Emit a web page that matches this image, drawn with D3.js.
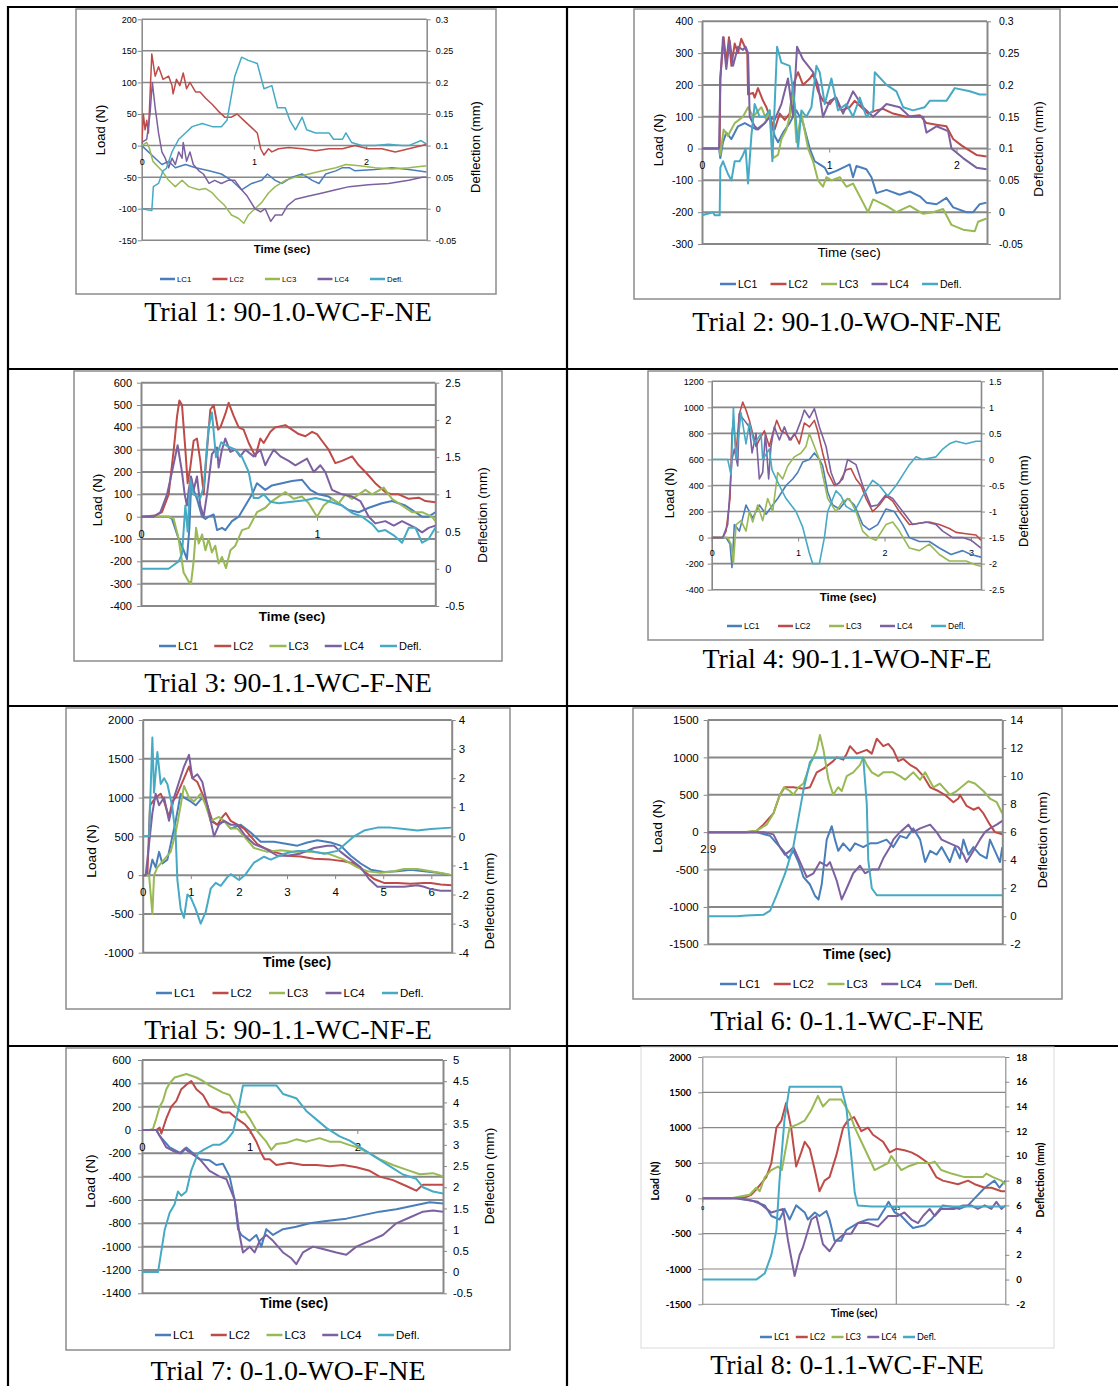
<!DOCTYPE html>
<html>
<head>
<meta charset="utf-8">
<script src="https://cdn.jsdelivr.net/npm/d3@7"></script>
<style>
  body { margin: 0; background: #fff; }
</style>
</head>
<body>
<div id="fig"></div>
<script>
//Series names and Office-style colours
var seriesNames = ["LC1", "LC2", "LC3", "LC4", "Defl."];
var seriesColors = ["#4A7EBB", "#BE4B48", "#98B954", "#7D60A0", "#46AAC5"];

//Trial 1 readings [time (s), load (N)] and [time (s), deflection (mm)]
var trial1LC1 = [[0,0],[0.06,-10],[0.12,-20],[0.18,-30],[0.24,-25],[0.30,-35],[0.39,-30],[0.48,-35],[0.60,-40],[0.71,-45],[0.80,-55],[0.89,-70],[0.98,-60],[1.07,-55],[1.12,-45],[1.19,-55],[1.25,-60],[1.34,-50],[1.43,-45],[1.52,-55],[1.58,-60],[1.64,-45],[1.73,-40],[1.79,-35],[1.85,-35],[1.90,-40],[2.08,-38],[2.23,-35],[2.38,-38],[2.54,-42]];
var trial1LC2 = [[0,0],[0.015,50],[0.03,25],[0.045,40],[0.06,20],[0.09,145],[0.12,110],[0.15,125],[0.19,105],[0.24,110],[0.27,95],[0.28,82],[0.31,105],[0.34,95],[0.37,115],[0.40,90],[0.43,100],[0.48,85],[0.52,85],[0.57,75],[0.63,65],[0.68,55],[0.74,45],[0.80,45],[0.85,50],[0.91,40],[0.97,30],[1.03,20],[1.06,-5],[1.09,-15],[1.13,-5],[1.16,-10],[1.22,-5],[1.31,-3],[1.43,-5],[1.55,-8],[1.67,-5],[1.79,-5],[1.90,0],[2.02,-5],[2.14,-5],[2.26,-10],[2.38,-5],[2.50,0],[2.54,2]];
var trial1LC3 = [[0,0],[0.045,5],[0.07,-5],[0.10,-25],[0.18,-40],[0.24,-55],[0.27,-60],[0.30,-65],[0.36,-55],[0.42,-65],[0.51,-70],[0.57,-68],[0.63,-75],[0.68,-85],[0.74,-95],[0.80,-110],[0.86,-115],[0.91,-123],[0.95,-110],[1.01,-100],[1.07,-90],[1.13,-75],[1.19,-65],[1.28,-55],[1.37,-50],[1.49,-45],[1.61,-40],[1.73,-35],[1.82,-30],[1.94,-32],[2.08,-35],[2.23,-37],[2.38,-35],[2.54,-32]];
var trial1LC4 = [[0,5],[0.045,10],[0.074,50],[0.095,100],[0.12,60],[0.15,20],[0.18,-10],[0.21,-20],[0.24,-35],[0.27,-20],[0.30,-30],[0.33,-10],[0.36,-20],[0.37,5],[0.40,-25],[0.43,-10],[0.46,-30],[0.51,-40],[0.55,-45],[0.60,-60],[0.65,-55],[0.71,-60],[0.77,-55],[0.83,-55],[0.89,-70],[0.94,-80],[1.01,-100],[1.06,-105],[1.10,-100],[1.15,-120],[1.19,-110],[1.25,-110],[1.30,-95],[1.37,-85],[1.49,-80],[1.61,-75],[1.73,-70],[1.85,-65],[2.02,-62],[2.20,-60],[2.38,-55],[2.50,-50],[2.54,-50]];
var trial1Defl = [[0,0],[0.09,-0.003],[0.104,0.035],[0.15,0.04],[0.19,0.06],[0.22,0.064],[0.27,0.09],[0.33,0.11],[0.39,0.12],[0.45,0.13],[0.54,0.135],[0.63,0.13],[0.71,0.13],[0.76,0.14],[0.80,0.18],[0.83,0.21],[0.89,0.24],[0.95,0.235],[1.03,0.23],[1.09,0.19],[1.16,0.195],[1.21,0.16],[1.28,0.16],[1.32,0.14],[1.37,0.125],[1.43,0.145],[1.47,0.125],[1.55,0.12],[1.67,0.12],[1.71,0.11],[1.79,0.11],[1.82,0.12],[1.87,0.105],[1.96,0.1],[2.08,0.1],[2.20,0.102],[2.32,0.1],[2.38,0.1],[2.49,0.108],[2.54,0.102]];

//Trial 2
var trial2LC1 = [[0,0],[0.134,0],[0.144,-30],[0.165,20],[0.191,50],[0.231,30],[0.283,70],[0.336,80],[0.427,60],[0.493,80],[0.532,100],[0.571,40],[0.598,20],[0.637,50],[0.689,80],[0.742,120],[0.794,80],[0.847,0],[0.886,-40],[0.925,-50],[0.965,-60],[0.991,-80],[1.056,-70],[1.109,-60],[1.161,-50],[1.187,-90],[1.214,-55],[1.292,-65],[1.332,-90],[1.371,-140],[1.45,-130],[1.554,-145],[1.633,-135],[1.712,-150],[1.764,-170],[1.843,-175],[1.921,-155],[1.974,-185],[2.079,-200],[2.131,-200],[2.183,-175],[2.236,-170]];
var trial2LC2 = [[0,0],[0.139,0],[0.144,220],[0.170,350],[0.191,270],[0.212,350],[0.231,260],[0.257,330],[0.283,300],[0.309,345],[0.336,320],[0.356,300],[0.362,170],[0.401,175],[0.414,160],[0.440,190],[0.480,150],[0.506,130],[0.532,100],[0.571,60],[0.611,110],[0.650,90],[0.689,110],[0.716,200],[0.755,240],[0.794,200],[0.847,220],[0.873,235],[0.912,180],[0.951,150],[1.004,140],[1.043,160],[1.096,120],[1.161,130],[1.2,150],[1.253,130],[1.305,110],[1.371,120],[1.423,125],[1.502,110],[1.607,100],[1.712,105],[1.764,80],[1.843,75],[1.921,70],[1.974,30],[2.039,10],[2.079,0],[2.157,-20],[2.236,-25]];
var trial2LC3 = [[0,0],[0.139,0],[0.144,-20],[0.170,60],[0.204,40],[0.257,80],[0.322,100],[0.362,130],[0.401,100],[0.467,130],[0.506,90],[0.532,120],[0.558,-30],[0.598,-20],[0.624,30],[0.663,60],[0.689,100],[0.716,180],[0.742,20],[0.781,110],[0.834,0],[0.873,-40],[0.912,-100],[0.951,-120],[0.978,-90],[1.017,-100],[1.083,-90],[1.135,-120],[1.187,-110],[1.266,-170],[1.305,-200],[1.345,-160],[1.45,-180],[1.528,-200],[1.633,-180],[1.738,-205],[1.817,-200],[1.895,-190],[1.961,-240],[2.052,-255],[2.144,-260],[2.170,-230],[2.236,-220]];
var trial2LC4 = [[0,0],[0.134,0],[0.144,220],[0.165,350],[0.191,250],[0.217,340],[0.244,260],[0.283,320],[0.322,310],[0.343,320],[0.362,300],[0.375,100],[0.414,70],[0.440,60],[0.493,80],[0.532,100],[0.571,90],[0.624,140],[0.676,220],[0.716,100],[0.747,320],[0.794,280],[0.873,240],[0.912,200],[0.951,100],[1.004,150],[1.056,160],[1.109,110],[1.187,180],[1.266,130],[1.345,100],[1.45,140],[1.554,130],[1.633,100],[1.738,100],[1.764,50],[1.843,70],[1.934,55],[1.961,0],[2.052,-30],[2.157,-60],[2.236,-65]];
var trial2Defl = [[0,-0.005],[0.087,0],[0.10,-0.005],[0.139,-0.005],[0.144,0.07],[0.165,0.08],[0.204,0.06],[0.231,0.05],[0.257,0.08],[0.296,0.08],[0.322,0.09],[0.343,0.1],[0.362,0.045],[0.388,0.12],[0.414,0.17],[0.453,0.15],[0.493,0.15],[0.532,0.16],[0.553,0.08],[0.590,0.26],[0.624,0.235],[0.689,0.23],[0.729,0.17],[0.755,0.1],[0.781,0.16],[0.820,0.15],[0.860,0.165],[0.899,0.23],[0.925,0.22],[0.965,0.17],[1.017,0.21],[1.069,0.16],[1.135,0.17],[1.187,0.15],[1.240,0.18],[1.292,0.15],[1.345,0.16],[1.358,0.22],[1.45,0.2],[1.528,0.19],[1.581,0.165],[1.659,0.16],[1.751,0.165],[1.790,0.175],[1.921,0.175],[1.987,0.195],[2.105,0.19],[2.183,0.185],[2.236,0.185]];

//Trial 3
var trial3LC1 = [[0,0],[0.157,0],[0.176,-10],[0.214,-100],[0.242,-150],[0.261,-190],[0.275,-50],[0.286,170],[0.299,120],[0.318,80],[0.347,0],[0.366,-10],[0.384,0],[0.413,10],[0.432,-60],[0.460,-50],[0.479,-60],[0.517,-20],[0.555,0],[0.593,50],[0.631,100],[0.659,150],[0.706,120],[0.744,140],[0.801,150],[0.858,160],[0.915,165],[0.962,120],[1.009,100],[1.066,90],[1.123,60],[1.18,30],[1.237,20],[1.294,40],[1.369,60],[1.426,70],[1.502,50],[1.559,20],[1.597,0],[1.634,0],[1.672,20]];
var trial3LC2 = [[0,0],[0.081,5],[0.119,20],[0.157,100],[0.186,300],[0.205,450],[0.218,520],[0.233,500],[0.252,300],[0.265,150],[0.280,220],[0.299,340],[0.318,350],[0.337,250],[0.356,100],[0.375,300],[0.394,480],[0.413,500],[0.438,390],[0.451,400],[0.479,460],[0.498,510],[0.527,450],[0.555,400],[0.583,390],[0.612,330],[0.650,270],[0.678,350],[0.697,330],[0.735,380],[0.763,400],[0.820,410],[0.858,390],[0.896,370],[0.934,360],[0.972,380],[1.0,370],[1.028,340],[1.066,300],[1.104,240],[1.142,250],[1.199,270],[1.237,230],[1.275,200],[1.331,150],[1.388,110],[1.426,100],[1.464,100],[1.521,80],[1.578,85],[1.616,70],[1.672,65]];
var trial3LC3 = [[0,0],[0.157,0],[0.186,-10],[0.214,-100],[0.242,-250],[0.271,-290],[0.284,-300],[0.299,-200],[0.313,-50],[0.328,-120],[0.347,-80],[0.366,-150],[0.384,-100],[0.403,-160],[0.422,-130],[0.441,-210],[0.460,-180],[0.483,-230],[0.508,-150],[0.536,-130],[0.574,-60],[0.612,-50],[0.659,20],[0.706,40],[0.744,70],[0.782,90],[0.820,110],[0.867,80],[0.915,90],[0.953,60],[1.0,0],[1.038,50],[1.085,80],[1.123,60],[1.161,100],[1.199,80],[1.237,100],[1.275,120],[1.313,100],[1.379,130],[1.426,80],[1.483,50],[1.540,20],[1.597,20],[1.653,0],[1.672,-20]];
var trial3LC4 = [[0,0],[0.072,0],[0.110,20],[0.148,100],[0.176,200],[0.208,320],[0.233,200],[0.248,100],[0.261,50],[0.271,120],[0.284,180],[0.299,120],[0.318,180],[0.337,50],[0.356,0],[0.375,100],[0.403,280],[0.432,310],[0.441,220],[0.460,300],[0.479,350],[0.508,290],[0.536,300],[0.564,270],[0.593,300],[0.640,270],[0.678,300],[0.706,230],[0.725,260],[0.754,300],[0.792,270],[0.839,250],[0.877,230],[0.943,260],[0.981,200],[1.019,230],[1.047,200],[1.085,120],[1.142,100],[1.199,90],[1.246,70],[1.294,0],[1.331,-30],[1.388,-20],[1.436,-40],[1.483,-20],[1.559,-50],[1.597,-70],[1.634,-50],[1.672,-40]];
var trial3Defl = [[0,0],[0.157,0],[0.186,0.05],[0.214,0.1],[0.233,0.2],[0.252,0.85],[0.265,0.5],[0.280,1.2],[0.299,1.0],[0.337,0.95],[0.356,1.1],[0.384,1.9],[0.403,2.1],[0.426,1.5],[0.456,1.7],[0.489,1.65],[0.536,1.6],[0.574,1.5],[0.612,1.3],[0.640,0.95],[0.669,0.95],[0.697,1.0],[0.735,0.9],[0.782,0.88],[0.858,0.9],[0.934,0.92],[0.991,0.95],[1.047,0.92],[1.142,0.85],[1.199,0.75],[1.256,0.7],[1.313,0.6],[1.350,0.5],[1.388,0.52],[1.436,0.45],[1.483,0.35],[1.521,0.55],[1.559,0.55],[1.597,0.35],[1.634,0.4],[1.672,0.55]];

//Trial 4
var trial4LC1 = [[0,0],[0.166,0],[0.212,-50],[0.235,-230],[0.262,100],[0.320,50],[0.397,250],[0.474,150],[0.551,250],[0.629,180],[0.706,250],[0.764,300],[0.860,400],[0.937,450],[0.995,500],[1.053,580],[1.130,600],[1.188,650],[1.246,600],[1.284,550],[1.342,350],[1.400,250],[1.477,220],[1.573,300],[1.651,250],[1.747,100],[1.824,60],[1.921,100],[2.017,220],[2.113,200],[2.210,100],[2.287,0],[2.403,-30],[2.518,-30],[2.634,-80],[2.769,-130],[2.904,-100],[3.0,-130],[3.116,-150]];
var trial4LC2 = [[0,0],[0.127,0],[0.166,50],[0.212,300],[0.235,800],[0.251,900],[0.282,650],[0.320,950],[0.359,1040],[0.397,980],[0.436,900],[0.474,800],[0.513,700],[0.551,750],[0.609,820],[0.667,700],[0.706,800],[0.752,900],[0.802,820],[0.860,800],[0.918,750],[0.956,800],[1.014,720],[1.072,880],[1.130,850],[1.188,900],[1.226,820],[1.284,650],[1.342,500],[1.381,450],[1.419,400],[1.477,420],[1.554,520],[1.612,530],[1.670,450],[1.728,400],[1.786,300],[1.863,200],[1.940,250],[2.017,320],[2.094,280],[2.171,200],[2.287,100],[2.403,110],[2.518,120],[2.634,100],[2.750,70],[2.827,40],[2.943,30],[3.058,20],[3.116,-20]];
var trial4LC3 = [[0,0],[0.185,0],[0.224,-50],[0.251,-200],[0.282,100],[0.339,130],[0.397,50],[0.436,200],[0.474,120],[0.532,250],[0.590,130],[0.648,300],[0.706,200],[0.764,500],[0.821,450],[0.879,550],[0.956,620],[1.034,650],[1.091,700],[1.130,800],[1.188,700],[1.246,600],[1.342,300],[1.438,200],[1.516,280],[1.593,300],[1.670,200],[1.747,50],[1.824,0],[1.901,-20],[2.017,100],[2.094,120],[2.171,50],[2.287,-80],[2.403,-100],[2.518,-50],[2.634,-130],[2.750,-180],[2.943,-180],[3.058,-210],[3.116,-220]];
var trial4LC4 = [[0,0],[0.127,0],[0.185,100],[0.235,600],[0.262,680],[0.301,550],[0.320,950],[0.378,900],[0.436,850],[0.467,650],[0.513,800],[0.551,450],[0.590,500],[0.621,800],[0.659,450],[0.686,700],[0.725,850],[0.783,750],[0.841,850],[0.899,750],[0.976,800],[1.034,900],[1.072,980],[1.130,920],[1.188,990],[1.246,850],[1.323,700],[1.381,500],[1.438,400],[1.516,450],[1.573,600],[1.670,560],[1.747,400],[1.843,240],[1.921,250],[2.017,330],[2.094,300],[2.210,200],[2.325,100],[2.480,120],[2.596,100],[2.673,50],[2.788,0],[2.904,0],[3.0,-20],[3.116,-80]];
var trial4Defl = [[0,0],[0.185,0],[0.224,-0.3],[0.251,1.0],[0.282,0],[0.339,0.9],[0.397,0.3],[0.436,0.7],[0.494,0.3],[0.571,0.5],[0.590,0],[0.667,0.2],[0.698,-0.2],[0.783,-0.5],[0.860,-0.75],[0.976,-1.0],[1.053,-1.3],[1.130,-1.8],[1.169,-2.0],[1.246,-2.0],[1.304,-1.5],[1.342,-1.0],[1.438,-0.6],[1.496,-0.7],[1.554,-0.9],[1.651,-1.0],[1.747,-0.7],[1.863,-0.4],[1.940,-0.5],[2.036,-0.7],[2.133,-0.5],[2.210,-0.3],[2.287,-0.1],[2.364,0.05],[2.441,0],[2.596,0.05],[2.673,0.2],[2.750,0.3],[2.827,0.35],[2.943,0.3],[3.058,0.35],[3.116,0.35]];

//Trial 5
var trial5LC1 = [[0,0],[0.132,0],[0.201,200],[0.270,100],[0.340,300],[0.409,150],[0.513,200],[0.582,400],[0.686,700],[0.790,1050],[0.859,1000],[0.998,950],[1.102,900],[1.240,1000],[1.344,900],[1.414,700],[1.552,650],[1.691,700],[1.830,600],[2.037,650],[2.245,550],[2.453,430],[2.730,430],[3.008,400],[3.215,380],[3.423,420],[3.631,450],[3.909,420],[4.116,380],[4.324,250],[4.532,150],[4.740,70],[5.017,40],[5.294,50],[5.572,70],[5.849,50],[6.126,30],[6.424,0]];
var trial5LC2 = [[0,0],[0.097,0],[0.152,900],[0.270,1000],[0.374,1050],[0.444,950],[0.547,750],[0.617,950],[0.686,1000],[0.825,1200],[0.963,1400],[1.033,1250],[1.137,1200],[1.240,1050],[1.344,900],[1.448,700],[1.552,650],[1.656,750],[1.726,800],[1.830,700],[1.968,650],[2.107,600],[2.245,500],[2.384,400],[2.523,350],[2.730,300],[3.008,250],[3.285,240],[3.562,210],[3.909,200],[4.186,180],[4.394,150],[4.602,50],[4.809,-50],[5.017,-100],[5.294,-100],[5.572,-110],[5.849,-100],[5.988,-100],[6.195,-120],[6.424,-130]];
var trial5LC3 = [[0,0],[0.132,0],[0.201,-500],[0.236,0],[0.305,100],[0.444,200],[0.582,300],[0.686,550],[0.790,900],[0.859,1150],[0.963,1000],[1.067,950],[1.206,1050],[1.310,900],[1.414,700],[1.587,750],[1.691,700],[1.830,600],[1.968,600],[2.107,500],[2.315,350],[2.592,300],[2.869,320],[3.146,300],[3.493,300],[3.839,280],[4.186,200],[4.463,100],[4.671,50],[4.948,30],[5.225,50],[5.433,80],[5.710,80],[5.988,50],[6.265,20],[6.424,0]];
var trial5LC4 = [[0,0],[0.062,0],[0.132,400],[0.201,800],[0.270,1050],[0.340,900],[0.444,1000],[0.547,700],[0.651,1000],[0.755,1200],[0.859,1400],[0.963,1550],[1.033,1250],[1.137,1300],[1.240,1200],[1.344,900],[1.448,600],[1.483,500],[1.587,650],[1.691,700],[1.830,650],[1.968,650],[2.141,500],[2.315,400],[2.523,350],[2.800,250],[3.008,250],[3.285,280],[3.562,350],[3.839,380],[3.978,380],[4.116,300],[4.324,200],[4.532,100],[4.705,-50],[4.879,-150],[5.156,-150],[5.433,-150],[5.710,-130],[5.849,-150],[5.988,-180],[6.195,-200],[6.424,-200]];
var trial5Defl = [[0,0],[0.132,0],[0.201,3.4],[0.236,1.5],[0.305,2.9],[0.374,1.8],[0.444,2.0],[0.513,1.8],[0.617,1.0],[0.686,0],[0.721,-1.5],[0.790,-2.5],[0.859,-2.8],[0.929,-2.0],[0.998,-2.1],[1.102,-2.5],[1.206,-3.0],[1.310,-2.6],[1.414,-1.8],[1.518,-1.6],[1.622,-1.7],[1.760,-1.4],[1.830,-1.3],[2.003,-1.5],[2.141,-1.3],[2.315,-0.9],[2.523,-0.7],[2.661,-0.8],[2.938,-0.6],[3.215,-0.5],[3.493,-0.5],[3.770,-0.6],[4.047,-0.5],[4.186,-0.3],[4.394,0],[4.602,0.2],[4.879,0.3],[5.156,0.3],[5.433,0.25],[5.710,0.2],[5.988,0.25],[6.424,0.3]];

//Trial 6 (time axis starts at 2.9 s)
var trial6LC1 = [[2.9,0],[3.066,0],[3.112,-50],[3.134,-150],[3.157,-250],[3.174,-350],[3.191,-250],[3.208,-400],[3.225,-600],[3.247,-700],[3.264,-850],[3.276,-900],[3.287,-700],[3.304,-100],[3.321,80],[3.332,-100],[3.343,-250],[3.36,-150],[3.383,-250],[3.4,-150],[3.428,-200],[3.451,-150],[3.474,-150],[3.507,-100],[3.53,-200],[3.553,-50],[3.575,-80],[3.598,50],[3.621,-100],[3.638,-400],[3.655,-250],[3.677,-300],[3.694,-200],[3.722,-400],[3.739,-200],[3.756,-350],[3.768,-100],[3.785,-300],[3.802,-200],[3.824,-300],[3.847,-350],[3.858,-100],[3.875,-250],[3.892,-400],[3.9,-200]];
var trial6LC2 = [[2.9,0],[3.032,0],[3.066,20],[3.089,100],[3.123,250],[3.145,500],[3.162,600],[3.191,600],[3.225,580],[3.247,600],[3.27,800],[3.293,850],[3.326,950],[3.338,1000],[3.36,970],[3.372,1050],[3.383,1150],[3.406,1050],[3.44,1100],[3.457,1050],[3.474,1250],[3.496,1150],[3.513,1180],[3.53,1100],[3.547,950],[3.564,980],[3.587,900],[3.609,850],[3.632,750],[3.655,600],[3.683,550],[3.705,500],[3.734,400],[3.751,450],[3.756,500],[3.779,350],[3.802,300],[3.819,330],[3.836,250],[3.858,100],[3.875,0],[3.9,-30]];
var trial6LC3 = [[2.9,0],[3.021,0],[3.066,20],[3.1,100],[3.123,250],[3.145,500],[3.159,600],[3.179,550],[3.191,500],[3.208,600],[3.225,650],[3.247,900],[3.27,1100],[3.281,1300],[3.293,1100],[3.31,700],[3.326,500],[3.343,600],[3.355,550],[3.372,750],[3.394,800],[3.417,900],[3.428,1000],[3.44,900],[3.457,800],[3.479,750],[3.496,800],[3.53,800],[3.553,750],[3.57,700],[3.598,800],[3.621,700],[3.638,800],[3.666,600],[3.688,650],[3.722,500],[3.745,550],[3.785,680],[3.807,650],[3.836,550],[3.858,450],[3.881,400],[3.9,250]];
var trial6LC4 = [[2.9,0],[3.089,0],[3.123,-30],[3.145,-200],[3.162,-300],[3.179,-250],[3.191,-200],[3.208,-350],[3.225,-500],[3.236,-600],[3.259,-550],[3.281,-400],[3.304,-450],[3.315,-400],[3.338,-650],[3.355,-900],[3.372,-750],[3.394,-550],[3.417,-450],[3.434,-550],[3.457,-500],[3.479,-500],[3.496,-350],[3.519,-200],[3.53,-100],[3.541,-50],[3.553,0],[3.581,100],[3.598,0],[3.621,50],[3.655,100],[3.677,0],[3.694,-100],[3.722,-150],[3.751,-200],[3.768,-300],[3.779,-400],[3.802,-250],[3.824,-100],[3.841,0],[3.858,50],[3.881,100],[3.9,150]];
var trial6Defl = [[2.9,0],[2.998,0],[3.032,0.05],[3.089,0.1],[3.112,0.4],[3.134,1.5],[3.162,3],[3.191,5],[3.208,7],[3.225,9],[3.247,11],[3.259,11.3],[3.428,11.3],[3.44,8],[3.445,4],[3.457,2],[3.474,1.5],[3.9,1.5]];

//Trial 7
var trial7LC1 = [[0,0],[0.133,0],[0.164,-50],[0.211,-100],[0.257,-150],[0.319,-180],[0.365,-200],[0.412,-150],[0.474,-200],[0.536,-250],[0.628,-260],[0.690,-300],[0.752,-290],[0.814,-400],[0.861,-600],[0.892,-850],[0.923,-900],[1.0,-950],[1.062,-900],[1.108,-1000],[1.155,-850],[1.217,-900],[1.310,-850],[1.433,-830],[1.557,-800],[1.712,-780],[1.898,-760],[2.053,-730],[2.207,-700],[2.362,-680],[2.517,-650],[2.672,-620],[2.796,-630]];
var trial7LC2 = [[0,0],[0.133,0],[0.164,20],[0.180,-30],[0.226,100],[0.272,200],[0.319,250],[0.365,350],[0.427,400],[0.458,420],[0.505,350],[0.567,300],[0.628,200],[0.690,180],[0.752,150],[0.814,150],[0.876,100],[0.954,50],[1.0,0],[1.062,-100],[1.108,-200],[1.139,-250],[1.186,-250],[1.248,-300],[1.372,-280],[1.495,-300],[1.619,-300],[1.743,-310],[1.867,-300],[1.991,-320],[2.115,-350],[2.207,-400],[2.331,-430],[2.455,-480],[2.548,-520],[2.610,-470],[2.703,-470],[2.796,-470]];
var trial7LC3 = [[0,0],[0.071,0],[0.102,10],[0.133,100],[0.164,200],[0.195,250],[0.226,350],[0.257,400],[0.303,450],[0.412,480],[0.505,450],[0.567,420],[0.628,380],[0.690,350],[0.752,320],[0.814,300],[0.876,200],[0.923,150],[0.954,160],[1.0,100],[1.062,0],[1.108,-50],[1.155,-100],[1.201,-170],[1.248,-120],[1.341,-110],[1.433,-80],[1.526,-100],[1.650,-70],[1.743,-100],[1.836,-100],[1.929,-130],[2.006,-150],[2.115,-200],[2.207,-250],[2.331,-300],[2.455,-340],[2.579,-380],[2.703,-370],[2.796,-400]];
var trial7LC4 = [[0,0],[0.133,0],[0.164,-50],[0.226,-150],[0.288,-180],[0.350,-200],[0.396,-160],[0.458,-200],[0.536,-250],[0.628,-350],[0.721,-400],[0.783,-420],[0.861,-600],[0.907,-900],[0.938,-1050],[1.0,-1000],[1.046,-1050],[1.093,-950],[1.155,-900],[1.217,-950],[1.310,-1050],[1.387,-1100],[1.433,-1150],[1.495,-1050],[1.588,-1000],[1.681,-1020],[1.805,-1050],[1.898,-1070],[1.991,-1000],[2.115,-950],[2.238,-900],[2.362,-800],[2.486,-750],[2.610,-700],[2.703,-690],[2.796,-700]];
var trial7Defl = [[0,0],[0.149,0],[0.180,0.5],[0.211,1.0],[0.257,1.4],[0.303,1.6],[0.334,1.9],[0.365,1.8],[0.412,1.9],[0.458,2.4],[0.520,2.8],[0.582,2.9],[0.659,3.0],[0.721,3.0],[0.783,3.1],[0.845,3.3],[0.892,3.8],[0.938,4.4],[1.248,4.4],[1.310,4.2],[1.433,4.1],[1.526,3.8],[1.619,3.6],[1.712,3.4],[1.836,3.2],[1.929,3.1],[2.053,2.9],[2.176,2.7],[2.300,2.5],[2.424,2.3],[2.548,2.2],[2.610,2.0],[2.703,1.9],[2.796,1.85]];

//Trial 8
var trial8LC1 = [[0,0],[0.083,0],[0.126,-30],[0.161,-100],[0.178,-250],[0.199,-300],[0.212,-150],[0.225,-300],[0.242,-100],[0.264,-200],[0.272,-300],[0.290,-200],[0.302,-250],[0.320,-180],[0.328,-300],[0.341,-600],[0.358,-600],[0.371,-450],[0.401,-350],[0.427,-300],[0.453,-300],[0.470,-150],[0.480,-50],[0.496,-200],[0.513,-250],[0.530,-350],[0.543,-420],[0.573,-380],[0.590,-300],[0.620,-100],[0.642,-120],[0.663,-150],[0.685,-100],[0.702,0],[0.728,150],[0.753,250],[0.766,150],[0.781,250]];
var trial8LC2 = [[0,0],[0.083,0],[0.109,10],[0.126,50],[0.143,150],[0.165,300],[0.178,500],[0.191,1000],[0.204,1100],[0.216,1350],[0.229,1000],[0.242,450],[0.255,650],[0.264,800],[0.277,700],[0.290,400],[0.302,100],[0.315,250],[0.328,300],[0.345,600],[0.363,1000],[0.375,1100],[0.391,1150],[0.410,950],[0.427,1000],[0.440,900],[0.466,800],[0.483,650],[0.500,700],[0.521,680],[0.539,650],[0.556,600],[0.582,500],[0.603,300],[0.620,250],[0.659,200],[0.685,250],[0.702,200],[0.728,150],[0.745,150],[0.771,100],[0.781,100]];
var trial8LC3 = [[0,0],[0.075,0],[0.101,30],[0.122,50],[0.139,150],[0.148,100],[0.161,300],[0.178,400],[0.195,450],[0.205,400],[0.225,1000],[0.247,1050],[0.264,1100],[0.281,1250],[0.298,1450],[0.311,1300],[0.328,1400],[0.358,1400],[0.380,1200],[0.393,1000],[0.410,800],[0.436,500],[0.444,400],[0.461,450],[0.479,500],[0.487,600],[0.500,500],[0.513,400],[0.530,450],[0.556,500],[0.590,500],[0.599,520],[0.616,400],[0.642,350],[0.676,300],[0.702,300],[0.723,300],[0.732,350],[0.749,300],[0.771,250],[0.781,200]];
var trial8LC4 = [[0,0],[0.092,0],[0.143,-50],[0.178,-200],[0.208,-150],[0.221,-600],[0.238,-1100],[0.251,-800],[0.259,-700],[0.281,-300],[0.294,-250],[0.311,-650],[0.328,-750],[0.345,-600],[0.367,-500],[0.384,-500],[0.401,-350],[0.427,-350],[0.453,-400],[0.479,-250],[0.504,-250],[0.521,-200],[0.539,-300],[0.556,-350],[0.569,-250],[0.586,-150],[0.599,-250],[0.616,-150],[0.650,-150],[0.672,-100],[0.693,-100],[0.710,-150],[0.728,-100],[0.745,-150],[0.758,-50],[0.771,-150],[0.781,-100]];
var trial8Defl = [[0,0],[0.139,0],[0.161,0.5],[0.178,2],[0.191,4],[0.199,8],[0.212,13],[0.225,15.6],[0.358,15.6],[0.371,14],[0.384,10],[0.393,7],[0.401,6],[0.436,5.9],[0.781,5.9]];

//Axis ranges and tick labels of each trial
var trialCaptions = ["Trial 1: 90-1.0-WC-F-NE", "Trial 2: 90-1.0-WO-NF-NE", "Trial 3: 90-1.1-WC-F-NE", "Trial 4: 90-1.1-WO-NF-E",
                     "Trial 5: 90-1.1-WC-NF-E", "Trial 6: 0-1.1-WC-F-NE", "Trial 7: 0-1.0-WO-F-NE", "Trial 8: 0-1.1-WC-F-NE"];
var timeDomains = [[0, 2.54], [0, 2.24], [0, 1.672], [0, 3.116], [0, 6.424], [2.9, 3.9], [0, 2.796], [0, 0.781]];
var timeTicks = [[0, 1, 2], [0, 1, 2], [0, 1], [0, 1, 2, 3], [0, 1, 2, 3, 4, 5, 6], [2.9], [0, 1, 2], [0, 0.5]];
var loadRanges = [[-150, 200, 50], [-300, 400, 100], [-400, 600, 100], [-400, 1200, 200], [-1000, 2000, 500], [-1500, 1500, 500], [-1400, 600, 200], [-1500, 2000, 500]];
var deflRanges = [[-0.05, 0.3, 0.05], [-0.05, 0.3, 0.05], [-0.5, 2.5, 0.5], [-2.5, 1.5, 0.5], [-4, 4, 1], [-2, 14, 2], [-0.5, 5, 0.5], [-2, 18, 2]];
var trialSeries = [
  [trial1LC1, trial1LC2, trial1LC3, trial1LC4, trial1Defl],
  [trial2LC1, trial2LC2, trial2LC3, trial2LC4, trial2Defl],
  [trial3LC1, trial3LC2, trial3LC3, trial3LC4, trial3Defl],
  [trial4LC1, trial4LC2, trial4LC3, trial4LC4, trial4Defl],
  [trial5LC1, trial5LC2, trial5LC3, trial5LC4, trial5Defl],
  [trial6LC1, trial6LC2, trial6LC3, trial6LC4, trial6Defl],
  [trial7LC1, trial7LC2, trial7LC3, trial7LC4, trial7Defl],
  [trial8LC1, trial8LC2, trial8LC3, trial8LC4, trial8Defl]
];

//Layout of each embedded chart inside the table cells
var layouts = [
  {frame: [76, 9, 496, 294], plot: [141.7, 19.3, 426.7, 240.3], caption: [288, 321],
   tickFont: 9, titleFont: 13, timeFont: 11.5, timeBold: true, legendFont: 7.8,
   loadTitle: [100, 130], deflTitle: [475, 147], timeTitle: [282, 253], xOffset: 19, xFont: 9,
   leftGap: 5, rightGap: 9, legend: [160, 279, 52.5, 15], lineWidth: 1.5, gridWidth: 1.5},
  {frame: [634, 9, 1060, 299], plot: [702, 21.3, 987, 244], caption: [847, 331],
   tickFont: 10.5, titleFont: 13.5, timeFont: 13.5, timeBold: false, legendFont: 10.5,
   loadTitle: [658, 140], deflTitle: [1038, 149], timeTitle: [849, 257], xOffset: 20, xFont: 10.5,
   leftGap: 9, rightGap: 12, legend: [720, 284, 50.5, 16], lineWidth: 2, gridWidth: 2},
  {frame: [74, 371, 502, 661], plot: [141, 382.7, 435.3, 606], caption: [288, 692],
   tickFont: 11, titleFont: 13.5, timeFont: 13.5, timeBold: true, legendFont: 11,
   loadTitle: [97, 500], deflTitle: [482, 515], timeTitle: [292, 621], xOffset: 21, xFont: 11,
   leftGap: 9, rightGap: 10, legend: [159, 646, 55.25, 17], lineWidth: 2, gridWidth: 2},
  {frame: [648, 371, 1043, 640], plot: [711.7, 381.3, 981, 589.7], caption: [847, 668],
   tickFont: 9, titleFont: 13, timeFont: 11.5, timeBold: true, legendFont: 8.5,
   loadTitle: [669, 493], deflTitle: [1023, 501], timeTitle: [848, 601], xOffset: 18, xFont: 9,
   leftGap: 8, rightGap: 8, legend: [727, 626, 51, 15], lineWidth: 1.6, gridWidth: 1.6},
  {frame: [66, 708, 510, 1009], plot: [142.7, 720, 451.7, 952.7], caption: [288, 1039],
   tickFont: 11.5, titleFont: 13.7, timeFont: 13.8, timeBold: true, legendFont: 11.5,
   loadTitle: [91, 851], deflTitle: [489, 901], timeTitle: [297, 967], xOffset: 21, xFont: 11.5,
   leftGap: 9, rightGap: 7, legend: [156, 993, 56.5, 16], lineWidth: 2, gridWidth: 2},
  {frame: [633, 708, 1062, 999], plot: [707.7, 720, 1002.3, 944.3], caption: [847, 1030],
   tickFont: 11.5, titleFont: 13.7, timeFont: 13.8, timeBold: true, legendFont: 11.5,
   loadTitle: [657, 826], deflTitle: [1042, 840], timeTitle: [857, 959], xOffset: 21, xFont: 11.5,
   leftGap: 9, rightGap: 8, legend: [720, 984, 53.75, 17], lineWidth: 2, gridWidth: 2},
  {frame: [66, 1048, 510, 1350], plot: [142, 1060, 443, 1293.3], caption: [288, 1380],
   tickFont: 11.3, titleFont: 13.7, timeFont: 13.8, timeBold: true, legendFont: 11.5,
   loadTitle: [90, 1181], deflTitle: [489, 1176], timeTitle: [294, 1308], xOffset: 21, xFont: 11.3,
   leftGap: 11, rightGap: 10, legend: [155, 1335, 55.75, 16], lineWidth: 2, gridWidth: 2},
  {frame: [641, 1047, 1054, 1348], plot: [702.3, 1057, 1005.3, 1304.3], caption: [847, 1374],
   tickFont: 9.5, titleFont: 10.5, timeFont: 10.5, timeBold: true, legendFont: 9,
   loadTitle: [655, 1181], deflTitle: [1040, 1180], timeTitle: [854, 1317], xOffset: 12, xFont: 5,
   leftGap: 11, rightGap: 11, legend: [760, 1337, 35.75, 12], lineWidth: 2, gridWidth: 1.1,
   calibri: true, timeGrid: true}
];

var width = 1118,
    height = 1386;

var svg = d3.select("#fig")
            .append("svg")
            .attr("width", width)
            .attr("height", height);

svg.append("rect").attr("width", width).attr("height", height).attr("fill", "#fff");

//Table rules
[7, 369, 706, 1046].forEach(function(y) {
  svg.append("line").attr("x1", 7).attr("x2", width).attr("y1", y).attr("y2", y)
     .attr("stroke", "#000").attr("stroke-width", 2.2);
});
[8, 567].forEach(function(x) {
  svg.append("line").attr("x1", x).attr("x2", x).attr("y1", 6).attr("y2", height)
     .attr("stroke", "#000").attr("stroke-width", 2.2);
});

//Builds evenly spaced tick values from [min, max, step]
function stepTicks(r) {
  var n = Math.round((r[1] - r[0]) / r[2]);
  return d3.range(n + 1).map(function(i) { return +(r[0] + i * r[2]).toFixed(4); });
}

function plainNumber(v) { return String(+v.toFixed(3)); }

var gridColor = "#888888";

trialSeries.forEach(function(series, i) {
  var L = layouts[i];
  var sans = L.calibri ? "Lato, 'Liberation Sans', sans-serif" : "'Liberation Sans', Arial, sans-serif";
  var tickWeight = L.calibri ? "bold" : "normal";
  var g = svg.append("g").attr("font-family", sans);

  //Chart area border
  g.append("rect")
   .attr("x", L.frame[0]).attr("y", L.frame[1])
   .attr("width", L.frame[2] - L.frame[0]).attr("height", L.frame[3] - L.frame[1])
   .attr("fill", "#fff")
   .attr("stroke", L.calibri ? "#d9d9d9" : "#8c8c8c")
   .attr("stroke-width", L.calibri ? 1 : 1.5);

  //Scales
  var x = d3.scaleLinear().domain(timeDomains[i]).range([L.plot[0], L.plot[2]]);
  var yLoad = d3.scaleLinear().domain([loadRanges[i][0], loadRanges[i][1]]).range([L.plot[3], L.plot[1]]);
  var yDefl = d3.scaleLinear().domain([deflRanges[i][0], deflRanges[i][1]]).range([L.plot[3], L.plot[1]]);
  var loadTicks = stepTicks(loadRanges[i]);
  var deflTicks = stepTicks(deflRanges[i]);

  //Horizontal gridlines
  g.selectAll(".grid")
   .data(loadTicks)
   .enter()
   .append("line")
   .attr("x1", L.plot[0]).attr("x2", L.plot[2])
   .attr("y1", function(d) { return yLoad(d); })
   .attr("y2", function(d) { return yLoad(d); })
   .attr("stroke", gridColor)
   .attr("stroke-width", L.gridWidth);

  if (L.timeGrid) {
    timeTicks[i].slice(1).forEach(function(t) {
      g.append("line").attr("x1", x(t)).attr("x2", x(t)).attr("y1", L.plot[1]).attr("y2", L.plot[3])
       .attr("stroke", gridColor).attr("stroke-width", L.gridWidth);
    });
  }

  //Axes
  var leftAxis = d3.axisLeft(yLoad).tickValues(loadTicks).tickSize(4).tickSizeOuter(0)
                   .tickPadding(L.leftGap - 4).tickFormat(plainNumber);
  var rightAxis = d3.axisRight(yDefl).tickValues(deflTicks).tickSize(4).tickSizeOuter(0)
                    .tickPadding(L.rightGap - 4).tickFormat(plainNumber);
  var bottomAxis = d3.axisBottom(x).tickValues(timeTicks[i]).tickSize(4).tickSizeOuter(0)
                     .tickPadding(L.xOffset - 4 - 0.71 * L.xFont).tickFormat(plainNumber);

  var axes = [
    g.append("g").attr("transform", "translate(" + L.plot[0] + ",0)").call(leftAxis).attr("font-size", L.tickFont),
    g.append("g").attr("transform", "translate(" + L.plot[2] + ",0)").call(rightAxis).attr("font-size", L.tickFont),
    g.append("g").attr("transform", "translate(0," + yLoad(0) + ")").call(bottomAxis).attr("font-size", L.xFont)
  ];
  axes.forEach(function(a, k) {
    a.attr("font-family", null);
    a.select(".domain").attr("stroke", gridColor).attr("stroke-width", k == 2 ? 0 : L.gridWidth);
    a.selectAll(".tick line").attr("stroke", gridColor).attr("stroke-width", 1);
    a.selectAll(".tick text").attr("fill", "#000").attr("font-weight", tickWeight);
  });

  //Series lines, clipped to the plot area
  var clipId = "clip" + i;
  g.append("clipPath").attr("id", clipId)
   .append("rect")
   .attr("x", L.plot[0]).attr("y", L.plot[1] - 2)
   .attr("width", L.plot[2] - L.plot[0]).attr("height", L.plot[3] - L.plot[1] + 4);

  var loadLine = d3.line().x(function(d) { return x(d[0]); }).y(function(d) { return yLoad(d[1]); });
  var deflLine = d3.line().x(function(d) { return x(d[0]); }).y(function(d) { return yDefl(d[1]); });

  g.append("g").attr("clip-path", "url(#" + clipId + ")")
   .selectAll(".series")
   .data(series)
   .enter()
   .append("path")
   .attr("d", function(d, k) { return k == 4 ? deflLine(d) : loadLine(d); })
   .attr("fill", "none")
   .attr("stroke", function(d, k) { return seriesColors[k]; })
   .attr("stroke-width", L.lineWidth)
   .attr("stroke-linejoin", "round");

  //Axis titles
  g.append("text")
   .attr("transform", "translate(" + L.loadTitle[0] + "," + L.loadTitle[1] + ") rotate(-90)")
   .attr("text-anchor", "middle").attr("dominant-baseline", "central")
   .attr("font-size", L.titleFont).attr("font-weight", tickWeight)
   .text("Load (N)");
  g.append("text")
   .attr("transform", "translate(" + L.deflTitle[0] + "," + L.deflTitle[1] + ") rotate(-90)")
   .attr("text-anchor", "middle").attr("dominant-baseline", "central")
   .attr("font-size", L.titleFont).attr("font-weight", tickWeight)
   .text("Deflection (mm)");
  g.append("text")
   .attr("x", L.timeTitle[0]).attr("y", L.timeTitle[1])
   .attr("text-anchor", "middle")
   .attr("font-size", L.timeFont).attr("font-weight", L.timeBold ? "bold" : "normal")
   .text("Time (sec)");

  //Legend
  var legend = g.selectAll(".legend")
                .data(seriesNames)
                .enter()
                .append("g")
                .attr("transform", function(d, k) { return "translate(" + (L.legend[0] + k * L.legend[2]) + "," + L.legend[1] + ")"; });
  legend.append("line")
        .attr("x1", 0).attr("x2", L.legend[3])
        .attr("stroke", function(d, k) { return seriesColors[k]; })
        .attr("stroke-width", 2.5);
  legend.append("text")
        .attr("x", L.legend[3] + 2)
        .attr("dy", "0.36em")
        .attr("font-size", L.legendFont)
        .text(function(d) { return d; });

  //Caption under the chart
  svg.append("text")
     .attr("x", L.caption[0]).attr("y", L.caption[1])
     .attr("text-anchor", "middle")
     .attr("font-family", "'Liberation Serif', 'Times New Roman', serif")
     .attr("font-size", 28)
     .text(trialCaptions[i]);
});
</script>
</body>
</html>
